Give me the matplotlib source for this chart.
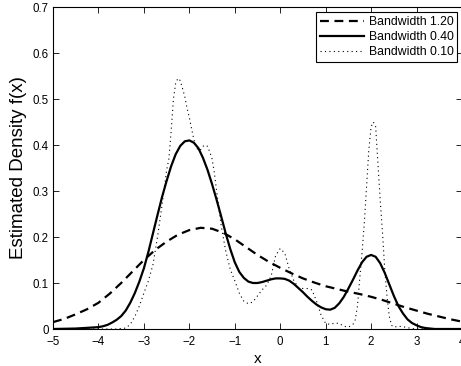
import matplotlib

matplotlib.use("Agg")
import matplotlib.pyplot as plt

# Kernel density estimates, one array per bandwidth
x_wide = [-5.0, -4.75, -4.5, -4.25, -4.0, -3.75, -3.5, -3.25, -3.0, -2.75, -2.5,
          -2.25, -2.0, -1.75, -1.5, -1.25, -1.0, -0.75, -0.5, -0.25, 0.0, 0.25,
          0.5, 0.75, 1.0, 1.25, 1.5, 1.75, 2.0, 2.25, 2.5, 2.75, 3.0, 3.25, 3.5,
          3.75, 4.0]
f_wide = [0.015, 0.022, 0.032, 0.043, 0.057, 0.077, 0.100, 0.125, 0.150, 0.172, 0.190,
          0.205, 0.215, 0.220, 0.218, 0.209, 0.195, 0.178, 0.161, 0.146, 0.133, 0.121,
          0.110, 0.101, 0.093, 0.087, 0.081, 0.076, 0.070, 0.063, 0.055, 0.047, 0.040,
          0.033, 0.027, 0.021, 0.016]

x_mid = [-5.0, -4.5, -4.0, -3.9, -3.8, -3.7, -3.6, -3.5, -3.4, -3.3, -3.2, -3.1,
         -3.0, -2.9, -2.8, -2.7, -2.6, -2.5, -2.4, -2.3, -2.2, -2.1, -2.0, -1.9,
         -1.8, -1.7, -1.6, -1.5, -1.4, -1.3, -1.2, -1.1, -1.0, -0.9, -0.8, -0.7,
         -0.6, -0.5, -0.4, -0.3, -0.2, -0.1, 0.0, 0.1, 0.2, 0.3, 0.4, 0.5, 0.6,
         0.7, 0.8, 0.9, 1.0, 1.1, 1.2, 1.3, 1.4, 1.5, 1.6, 1.7, 1.8, 1.9, 2.0,
         2.1, 2.2, 2.3, 2.4, 2.5, 2.6, 2.7, 2.8, 2.9, 3.0, 3.1, 3.2, 3.4, 4.0]
f_mid = [0.0, 0.001, 0.004, 0.006, 0.009, 0.014, 0.020, 0.028, 0.040, 0.057, 0.078, 0.103,
         0.132, 0.168, 0.208, 0.248, 0.287, 0.322, 0.354, 0.380, 0.398, 0.408, 0.410, 0.405,
         0.393, 0.372, 0.346, 0.315, 0.281, 0.245, 0.208, 0.174, 0.145, 0.124, 0.111, 0.103,
         0.100, 0.100, 0.102, 0.105, 0.108, 0.110, 0.110, 0.109, 0.105, 0.098, 0.089, 0.080, 0.070,
         0.061, 0.053, 0.047, 0.043, 0.042, 0.046, 0.056, 0.070, 0.088, 0.107, 0.127, 0.145, 0.157, 0.161,
         0.157, 0.143, 0.122, 0.097, 0.072, 0.050, 0.034, 0.021, 0.013, 0.008, 0.004, 0.002, 0.0, 0.0]

x_narrow = [-5.0, -3.6, -3.4, -3.3, -3.2, -3.1, -3.0, -2.9, -2.8, -2.7, -2.6,
            -2.5, -2.45, -2.4, -2.35, -2.3, -2.25, -2.2, -2.15, -2.1, -2.05, -2.0,
            -1.95, -1.9, -1.85, -1.8, -1.75, -1.7, -1.65, -1.6, -1.55, -1.5, -1.45,
            -1.4, -1.3, -1.2, -1.1, -1.0, -0.9, -0.8, -0.7, -0.6, -0.5, -0.4, -0.3,
            -0.2, -0.1, 0.0, 0.1, 0.2, 0.3, 0.4, 0.5, 0.6, 0.7, 0.8, 0.9, 1.0, 1.1,
            1.2, 1.3, 1.4, 1.5, 1.6, 1.65, 1.7, 1.75, 1.8, 1.85, 1.9, 1.95, 2.0,
            2.05, 2.1, 2.15, 2.2, 2.25, 2.3, 2.35, 2.4, 2.45, 2.5, 2.6, 2.7, 2.8,
            2.9, 3.0, 4.0]
f_narrow = [0.0, 0.0, 0.002, 0.010, 0.027, 0.050, 0.078, 0.105, 0.140, 0.200, 0.270,
            0.345, 0.370, 0.430, 0.500, 0.535, 0.545, 0.540, 0.523, 0.505, 0.480, 0.460,
            0.435, 0.412, 0.395, 0.388, 0.390, 0.397, 0.400, 0.397, 0.385, 0.370, 0.340,
            0.300, 0.225, 0.170, 0.130, 0.105, 0.078, 0.060, 0.055, 0.059, 0.072, 0.085, 0.095,
            0.115, 0.160, 0.175, 0.165, 0.130, 0.105, 0.090, 0.088, 0.088, 0.085, 0.060, 0.030, 0.012, 0.010,
            0.013, 0.012, 0.006, 0.004, 0.010, 0.020, 0.050, 0.110, 0.165, 0.230, 0.310, 0.390, 0.440,
            0.450, 0.440, 0.360, 0.280, 0.210, 0.130, 0.070, 0.027, 0.008, 0.004, 0.006, 0.005, 0.003,
            0.001, 0.0, 0.0]

labels = ["Bandwidth 1.20", "Bandwidth 0.40", "Bandwidth 0.10"]

plt.rcParams.update({
    "font.family": ["Liberation Sans", "DejaVu Sans"],
    "font.size": 8.3,
    "axes.linewidth": 0.8,
    "xtick.direction": "in",
    "ytick.direction": "in",
    "xtick.top": True,
    "ytick.right": True,
    "xtick.major.size": 4,
    "ytick.major.size": 4,
    "xtick.major.width": 0.6,
    "ytick.major.width": 0.6,
})

fig = plt.figure(figsize=(4.61, 3.66), dpi=100)
ax = fig.add_axes([53 / 461, 37 / 366, 409 / 461, 322 / 366])

ax.plot(x_wide, f_wide, color="black", lw=1.6, dashes=(4, 2.5), label=labels[0])
ax.plot(x_mid, f_mid, color="black", lw=1.6, label=labels[1])
ax.plot(x_narrow, f_narrow, color="black", lw=0.8, dashes=(1, 3), label=labels[2])

ax.set_xlim(-5, 4)
ax.set_ylim(0, 0.7)
ax.set_xticks(range(-5, 5))
ax.set_yticks([0, 0.1, 0.2, 0.3, 0.4, 0.5, 0.6, 0.7])
ax.set_yticklabels(["0", "0.1", "0.2", "0.3", "0.4", "0.5", "0.6", "0.7"])
ax.tick_params(axis="y", pad=3)
ax.tick_params(axis="x", pad=5)

ax.set_xlabel("x", fontsize=11, labelpad=3)
ax.set_ylabel("Estimated Density f(x)", fontsize=13.5, labelpad=4)

leg = ax.legend(loc="upper right", bbox_to_anchor=(0.988, 0.984), borderaxespad=0,
                fancybox=False, framealpha=1, edgecolor="black", fontsize=8.8,
                handlelength=3.6, handletextpad=0.4, labelspacing=0.25,
                borderpad=0.3)
leg.get_frame().set_linewidth(0.8)

fig.savefig("out.png", dpi=100, facecolor="white")
